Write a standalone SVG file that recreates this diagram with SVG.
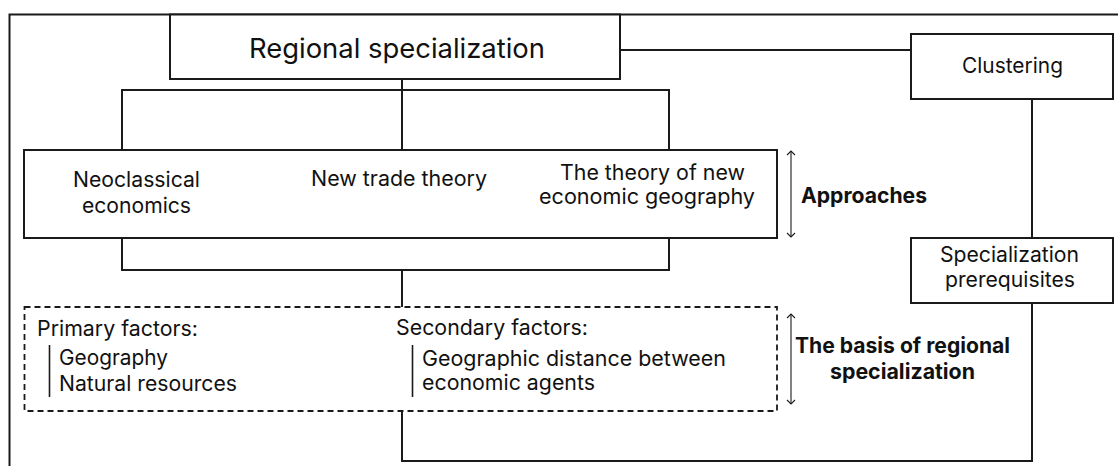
<svg xmlns="http://www.w3.org/2000/svg" width="1118" height="466" viewBox="0 0 1118 466">
<style>
.box{fill:#fff;stroke:#1a1a1a;stroke-width:2}
.dash{fill:none;stroke:#1a1a1a;stroke-width:1.8;stroke-dasharray:6 4}
.ln{fill:none;stroke:#1a1a1a;stroke-width:2}
.bar{fill:none;stroke:#1a1a1a;stroke-width:1.6}
.arr{fill:none;stroke:#1a1a1a;stroke-width:1.1}
.t{font-family:Inter,"Liberation Sans",sans-serif;font-size:21px;fill:#111}
.tt{font-family:Inter,"Liberation Sans",sans-serif;font-size:27px;fill:#111}
.b{font-family:Inter,"Liberation Sans",sans-serif;font-size:21px;font-weight:700;fill:#111}
</style>
<defs>
<marker id="hd" markerWidth="10" markerHeight="10" refX="0" refY="0" viewBox="-5 -5 10 10" orient="auto-start-reverse" markerUnits="userSpaceOnUse">
<path d="M-4,-4 L0,0 L-4,4" fill="none" stroke="#1a1a1a" stroke-width="1.1"/>
</marker>
</defs>
<rect width="1118" height="466" fill="#fff"/>
<g id="frame"><path class="ln" d="M9.5,470 V14.5 H1125"/></g>
<g id="connectors">
<path class="ln" d="M620,50 H911"/>
<path class="ln" d="M402,79 V150"/>
<path class="ln" d="M122,150 V90 H669 V150"/>
<path class="ln" d="M122,238 V270 H669 V238"/>
<path class="ln" d="M402,270 V307"/>
<path class="ln" d="M1032,99 V238"/>
<path class="ln" d="M1032,303 V461 H402 V411"/>
</g>
<g id="regional">
<rect class="box" x="170" y="14.5" width="450" height="64.5"/>
<text class="tt" x="249" y="58" textLength="296" lengthAdjust="spacingAndGlyphs">Regional specialization</text>
</g>
<g id="clustering">
<rect class="box" x="911" y="34" width="202" height="65"/>
<text class="t" x="962" y="73" textLength="101" lengthAdjust="spacingAndGlyphs">Clustering</text>
</g>
<g id="prerequisites">
<rect class="box" x="911" y="238" width="202" height="65"/>
<text class="t" x="940" y="262" textLength="139" lengthAdjust="spacingAndGlyphs">Specialization</text>
<text class="t" x="945" y="287" textLength="130" lengthAdjust="spacingAndGlyphs">prerequisites</text>
</g>
<g id="approaches-box">
<rect class="box" x="24" y="150" width="753" height="88"/>
<text class="t" x="73" y="187" textLength="127" lengthAdjust="spacingAndGlyphs">Neoclassical</text>
<text class="t" x="82" y="213" textLength="109" lengthAdjust="spacingAndGlyphs">economics</text>
<text class="t" x="311" y="186" textLength="176" lengthAdjust="spacingAndGlyphs">New trade theory</text>
<text class="t" x="560" y="180" textLength="185" lengthAdjust="spacingAndGlyphs">The theory of new</text>
<text class="t" x="539" y="204" textLength="216" lengthAdjust="spacingAndGlyphs">economic geography</text>
</g>
<g id="approaches-label">
<line class="arr" x1="791" y1="151" x2="791" y2="237" marker-start="url(#hd)" marker-end="url(#hd)"/>
<text class="b" x="801" y="203" textLength="126" lengthAdjust="spacingAndGlyphs">Approaches</text>
</g>
<g id="basis-box">
<rect class="dash" x="24.5" y="307" width="752.5" height="104"/>
<text class="t" x="37" y="336" textLength="161" lengthAdjust="spacingAndGlyphs">Primary factors:</text>
<line class="bar" x1="49.5" y1="345" x2="49.5" y2="397"/>
<text class="t" x="59" y="365" textLength="109" lengthAdjust="spacingAndGlyphs">Geography</text>
<text class="t" x="59" y="391" textLength="178" lengthAdjust="spacingAndGlyphs">Natural resources</text>
<text class="t" x="396" y="335" textLength="192" lengthAdjust="spacingAndGlyphs">Secondary factors:</text>
<line class="bar" x1="412.5" y1="345" x2="412.5" y2="397"/>
<text class="t" x="422" y="366" textLength="304" lengthAdjust="spacingAndGlyphs">Geographic distance between</text>
<text class="t" x="422" y="390" textLength="173" lengthAdjust="spacingAndGlyphs">economic agents</text>
</g>
<g id="basis-label">
<line class="arr" x1="791" y1="314" x2="791" y2="404" marker-start="url(#hd)" marker-end="url(#hd)"/>
<text class="b" x="795" y="353" textLength="215" lengthAdjust="spacingAndGlyphs">The basis of regional</text>
<text class="b" x="830" y="379" textLength="145" lengthAdjust="spacingAndGlyphs">specialization</text>
</g>
</svg>
